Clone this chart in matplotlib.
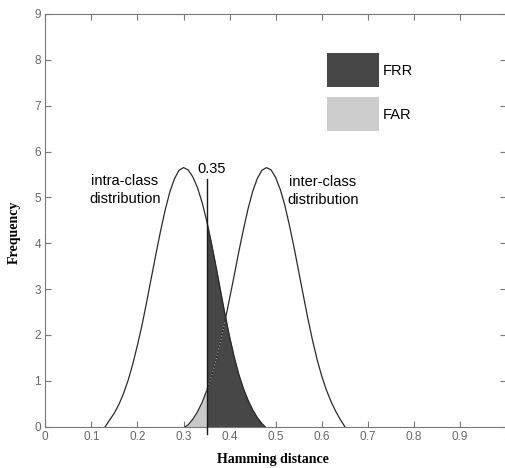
import numpy as np
import matplotlib.pyplot as plt
from matplotlib.patches import Patch

# values
intra_x = [0.13, 0.14, 0.15, 0.16, 0.17, 0.18, 0.19, 0.20, 0.21, 0.22, 0.23, 0.24,
           0.25, 0.26, 0.27, 0.28, 0.29, 0.30, 0.31, 0.32, 0.33, 0.34, 0.35, 0.36,
           0.37, 0.38, 0.39, 0.40, 0.41, 0.42, 0.43, 0.44, 0.45, 0.46, 0.47, 0.477]
intra_y = [0.0, 0.15, 0.30, 0.49, 0.73, 1.02, 1.37, 1.78, 2.22, 2.72, 3.24, 3.76,
           4.26, 4.72, 5.11, 5.40, 5.59, 5.65, 5.60, 5.45, 5.22, 4.90, 4.50, 4.03,
           3.52, 2.98, 2.45, 1.96, 1.52, 1.14, 0.83, 0.58, 0.37, 0.20, 0.07, 0.0]

inter_x = [0.304, 0.31, 0.32, 0.33, 0.34, 0.35, 0.36, 0.37, 0.38, 0.39, 0.40, 0.41,
           0.42, 0.43, 0.44, 0.45, 0.46, 0.47, 0.48, 0.49, 0.50, 0.51, 0.52, 0.53,
           0.54, 0.55, 0.56, 0.57, 0.58, 0.59, 0.60, 0.61, 0.62, 0.63, 0.64, 0.65]
inter_y = [0.0, 0.04, 0.16, 0.32, 0.52, 0.78, 1.08, 1.44, 1.85, 2.30, 2.80, 3.30,
           3.82, 4.30, 4.75, 5.13, 5.41, 5.59, 5.65, 5.60, 5.43, 5.17, 4.82, 4.38,
           3.90, 3.38, 2.86, 2.35, 1.88, 1.46, 1.10, 0.80, 0.55, 0.34, 0.16, 0.0]

threshold = 0.35
x_ticks = [0, 0.1, 0.2, 0.3, 0.4, 0.5, 0.6, 0.7, 0.8, 0.9, 1.0]
x_tick_labels = ['0', '0.1', '0.2', '0.3', '0.4', '0.5', '0.6', '0.7', '0.8', '0.9', '1']
y_ticks = [0, 1, 2, 3, 4, 5, 6, 7, 8, 9]

intra_x = np.array(intra_x)
intra_y = np.array(intra_y)
inter_x = np.array(inter_x)
inter_y = np.array(inter_y)

sans = ['Liberation Sans', 'DejaVu Sans']
serif = ['Liberation Serif', 'DejaVu Serif']

fig = plt.figure(figsize=(5.06, 4.68), dpi=100)
ax = fig.add_axes([0.0895, 0.0883, 0.9107, 0.8818])

# shaded error regions
ax.fill_between(intra_x, 0, intra_y, where=intra_x >= threshold,
                color='#474747', lw=0, zorder=2)
ax.fill_between(inter_x, 0, inter_y, where=inter_x <= threshold,
                color='#c8c8c8', lw=0, zorder=2)

# the two distributions
ax.plot(intra_x, intra_y, color='#2a2a2a', lw=0.9, zorder=3)
ax.plot(inter_x, inter_y, color='#2a2a2a', lw=0.9, zorder=3)
# part of the inter-class curve that runs through the dark area
m = (inter_x >= threshold) & (inter_x <= 0.39)
ax.plot(inter_x[m], inter_y[m], color='#9a9a9a', lw=0.9, ls=':', zorder=3.5)

# threshold
ax.plot([threshold, threshold], [-0.17, 5.4], color='#1a1a1a', lw=1.0,
        zorder=4, clip_on=False)
ax.text(0.361, 5.62, '0.35', ha='center', va='center', fontsize=10.5, family=sans)

ax.text(0.173, 5.16, 'intra-class\ndistribution', ha='center', va='center',
        fontsize=10.5, family=sans, linespacing=1.3)
ax.text(0.602, 5.14, 'inter-class\ndistribution', ha='center', va='center',
        fontsize=10.5, family=sans, linespacing=1.3)

handles = [Patch(facecolor='#474747', edgecolor='none', label='FRR'),
           Patch(facecolor='#cccccc', edgecolor='none', label='FAR')]
ax.legend(handles=handles, loc='upper left', bbox_to_anchor=(0.611, 8.14),
          bbox_transform=ax.transData, frameon=False, borderpad=0,
          borderaxespad=0, handlelength=3.56, handleheight=3.21,
          labelspacing=0.68, handletextpad=0.3,
          prop={'family': sans, 'size': 10.5})

ax.set_xlim(0, 1)
ax.set_ylim(0, 9)
ax.set_xticks(x_ticks)
ax.set_xticklabels(x_tick_labels)
ax.set_yticks(y_ticks)
ax.tick_params(direction='in', top=True, right=True, length=4, width=0.8,
               color='#777777', labelcolor='#666666', labelsize=8.5, pad=3)
for lab in ax.get_xticklabels() + ax.get_yticklabels():
    lab.set_family(sans)
for s in ['left', 'bottom', 'top']:
    ax.spines[s].set_color('#777777')
    ax.spines[s].set_linewidth(0.8)
ax.spines['right'].set_visible(False)

ax.set_xlabel('Hamming distance', family=serif, fontweight='bold', fontsize=10)
ax.set_ylabel('Frequency', family=serif, fontweight='bold', fontsize=10)
ax.xaxis.set_label_coords(0.494, -0.064)
ax.yaxis.set_label_coords(-0.053, 0.47)

fig.savefig('out.png', dpi=100)
